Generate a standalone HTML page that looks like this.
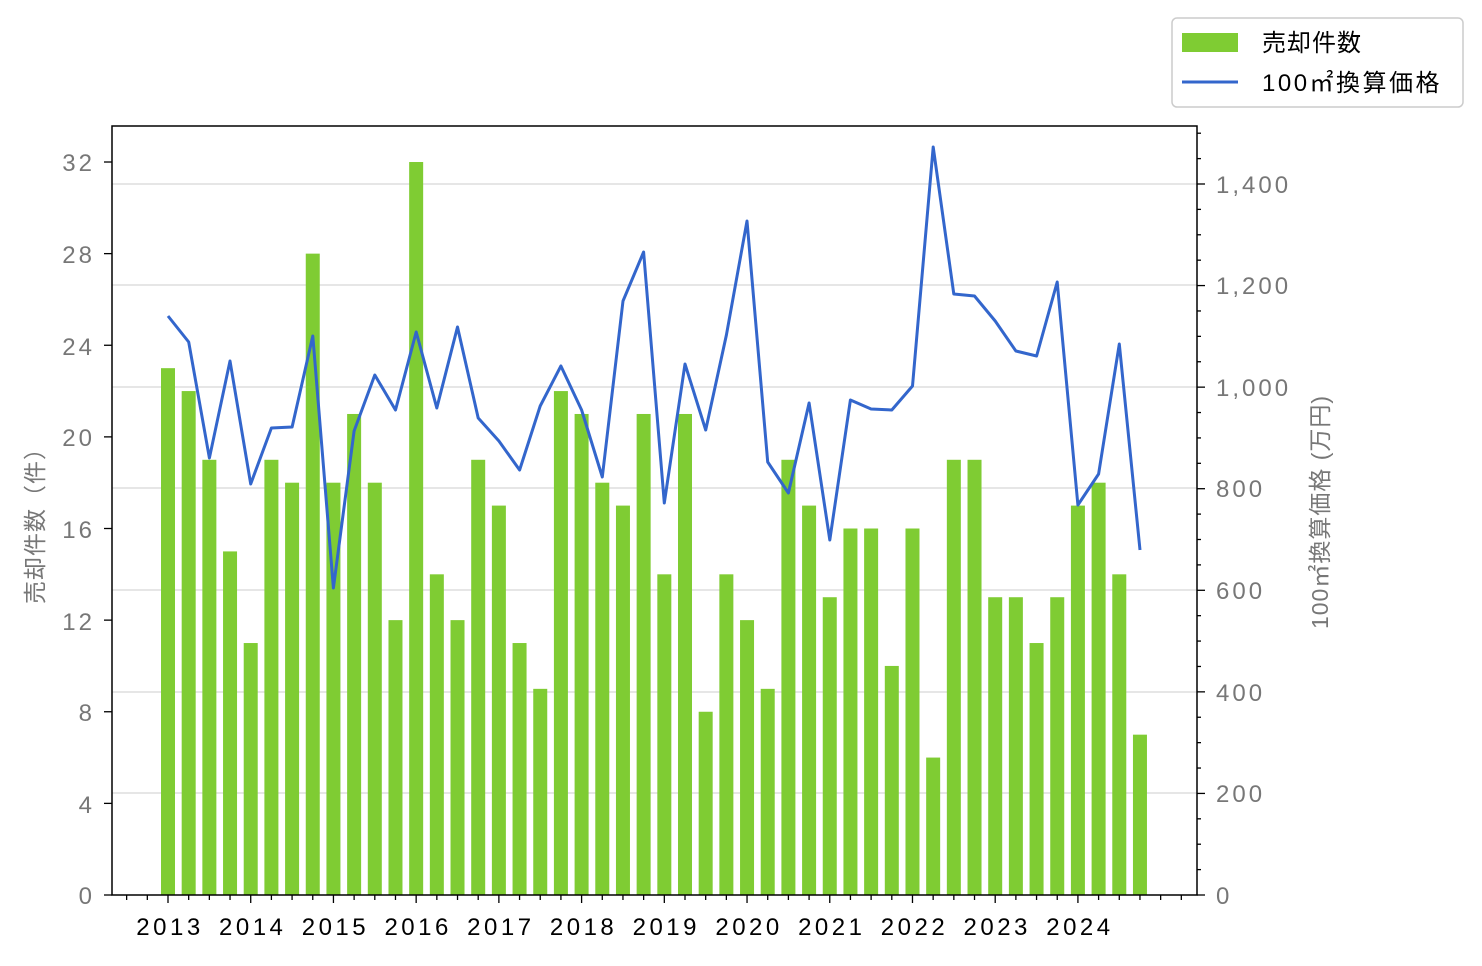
<!DOCTYPE html>
<html><head><meta charset="utf-8"><style>
body{margin:0;background:#fff;}
svg text{font-family:"Liberation Sans","Noto Sans CJK JP",sans-serif;}
</style></head><body>
<svg width="1482" height="961" viewBox="0 0 1482 961" xmlns="http://www.w3.org/2000/svg">
<rect width="1482" height="961" fill="#fff"/>
<g stroke="#d8d8d8" stroke-width="1.3">
<line x1="112" x2="1197" y1="184" y2="184"/><line x1="112" x2="1197" y1="285" y2="285"/>
<line x1="112" x2="1197" y1="387" y2="387"/><line x1="112" x2="1197" y1="488" y2="488"/>
<line x1="112" x2="1197" y1="590" y2="590"/><line x1="112" x2="1197" y1="692" y2="692"/>
<line x1="112" x2="1197" y1="793" y2="793"/>
</g>
<g id="bars" fill="#7fcc33"></g>
<polyline id="ln" fill="none" stroke="#3366cc" stroke-width="3" stroke-linejoin="round"/>
<rect x="112" y="126" width="1085" height="769" fill="none" stroke="#000" stroke-width="1.5"/>
<g id="ticks" stroke="#000" stroke-width="1.3"></g>
<g font-size="24" fill="#777" text-anchor="end" letter-spacing="3">
<text x="95" y="904">0</text><text x="95" y="813">4</text><text x="95" y="721">8</text><text x="95" y="630">12</text>
<text x="95" y="538">16</text><text x="95" y="446">20</text><text x="95" y="355">24</text><text x="95" y="263">28</text><text x="95" y="171">32</text>
</g>
<g font-size="24" fill="#777" letter-spacing="3">
<text x="1216" y="904">0</text><text x="1216" y="802">200</text><text x="1216" y="701">400</text><text x="1216" y="599">600</text>
<text x="1216" y="497">800</text><text x="1216" y="396">1,000</text><text x="1216" y="294">1,200</text><text x="1216" y="193">1,400</text>
</g>
<g font-size="24" fill="#000" text-anchor="middle" id="xl" letter-spacing="3.5"></g>
<text transform="translate(43,520) rotate(-90)" font-size="23" fill="#777" text-anchor="middle" letter-spacing="1">売却件数（件）</text>
<text transform="translate(1328,512) rotate(-90)" font-size="23" fill="#777" text-anchor="middle" letter-spacing="1">100㎡換算価格 (万円)</text>
<rect x="1172" y="18" width="291" height="89" rx="5" fill="#fff" stroke="#ccc" stroke-width="1.5"/>
<rect x="1182" y="33" width="56" height="19" fill="#7fcc33"/>
<text x="1262" y="51" font-size="24" fill="#000" letter-spacing="1">売却件数</text>
<line x1="1182" x2="1238" y1="82" y2="82" stroke="#3366cc" stroke-width="3"/>
<text x="1262" y="91" font-size="24" fill="#000" letter-spacing="2.5">100㎡換算価格</text>
</svg>
<script>
var ns="http://www.w3.org/2000/svg";
var v=[23,22,19,15,11,19,18,28,18,21,18,12,32,14,12,19,17,11,9,22,21,18,17,21,14,21,8,14,12,9,19,17,13,16,16,10,16,6,19,19,13,13,11,13,17,18,14,7];
var ly=[316,342,458,361,484,428,427,336,588,431,375,410,332,408,327,418,441,470,406,366,410,477,301,252,503,364,430,335,221,462,493,403,540,400,409,410,386,147,294,296,321,351,356,282,505,474,344,550];
var step=20.68,x0=168,b=document.getElementById("bars"),pts=[];
for(var i=0;i<48;i++){var x=x0+i*step,h=v[i]*22.906;
var r=document.createElementNS(ns,"rect");r.setAttribute("x",x-7);r.setAttribute("y",895-h);r.setAttribute("width",14);r.setAttribute("height",h);b.appendChild(r);
pts.push(x.toFixed(1)+","+ly[i]);}
document.getElementById("ln").setAttribute("points",pts.join(" "));
var t=document.getElementById("ticks"),xl=document.getElementById("xl");
function L(a,b2,c,d){var l=document.createElementNS(ns,"line");l.setAttribute("x1",a);l.setAttribute("x2",b2);l.setAttribute("y1",c);l.setAttribute("y2",d);t.appendChild(l);}
for(var i=-2;i<51;i++){var x=x0+i*step;if(x<113||x>1196)continue;var maj=(i%4==0&&i>=0&&i<48);L(x,x,895,maj?903:900);}
for(var y=0;y<=11;y++){var tx=document.createElementNS(ns,"text");tx.setAttribute("x",x0+y*4*step+2);tx.setAttribute("y",935);tx.textContent=2013+y;xl.appendChild(tx);}
for(var k=0;k<=8;k++){var y=895-k*4*22.906;L(104,112,y,y);}
for(var k=0;k<=30;k++){var y=895-k*50*0.50786;if(y<127)continue;L(1197,k%4==0?1205:1201,y,y);}
</script>
</body></html>
